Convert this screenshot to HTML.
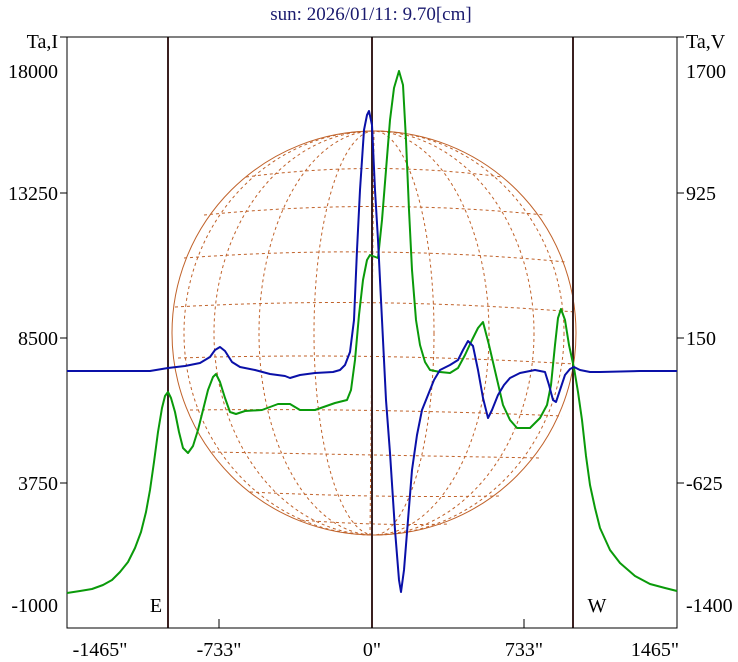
<!DOCTYPE html>
<html><head><meta charset="utf-8"><style>
html,body{margin:0;padding:0;background:#fff;}
svg{display:block;}
text{font-family:"Liberation Serif",serif;}
</style></head><body>
<svg width="738" height="662" viewBox="0 0 738 662" xmlns="http://www.w3.org/2000/svg">
<rect width="738" height="662" fill="#fff"/>
<text x="371" y="20" font-size="19" fill="#1a1a6e" text-anchor="middle">sun: 2026/01/11: 9.70[cm]</text>
<g fill="none" stroke="#c0622a" stroke-width="1">
<circle cx="374" cy="333" r="202"/>
<g stroke-dasharray="3,3">
<path d="M246 177 Q374 160 502 177"/>
<path d="M204 215 Q374 198 544 215"/>
<path d="M184 258 Q374 244 566 262"/>
<path d="M175 307 Q374 296 575 312"/>
<path d="M178 358 Q374 352 574 364"/>
<path d="M190 410 Q374 408 562 416"/>
<path d="M212 452 Q374 455 540 458"/>
<path d="M250 492 Q374 498 500 496"/>
<path d="M300 520 Q374 526 450 524"/>
<ellipse cx="374" cy="333" rx="60" ry="202"/>
<ellipse cx="374" cy="333" rx="115" ry="202"/>
<ellipse cx="374" cy="333" rx="160" ry="202"/>
<ellipse cx="374" cy="333" rx="190" ry="202"/>
<line x1="374" y1="131" x2="370" y2="535"/>
</g>
</g>
<g stroke="#3a2020" stroke-width="2">
<line x1="168" y1="37" x2="168" y2="628"/>
<line x1="372" y1="37" x2="372" y2="628"/>
<line x1="573" y1="37" x2="573" y2="628"/>
</g>
<rect x="67" y="37" width="610" height="591" fill="none" stroke="#000" stroke-width="1"/>
<g stroke="#000" stroke-width="1">
<line x1="60" y1="37" x2="67" y2="37"/><line x1="677" y1="37" x2="684" y2="37"/>
<line x1="60" y1="193" x2="67" y2="193"/><line x1="677" y1="193" x2="684" y2="193"/>
<line x1="60" y1="338" x2="67" y2="338"/><line x1="677" y1="338" x2="684" y2="338"/>
<line x1="60" y1="483" x2="67" y2="483"/><line x1="677" y1="483" x2="684" y2="483"/>
<line x1="219" y1="619" x2="219" y2="628"/><line x1="524" y1="619" x2="524" y2="628"/>
</g>
<g font-size="20" fill="#000">
<text x="58" y="48" text-anchor="end">Ta,I</text>
<text x="58" y="78" text-anchor="end">18000</text>
<text x="58" y="200" text-anchor="end">13250</text>
<text x="58" y="345" text-anchor="end">8500</text>
<text x="58" y="490" text-anchor="end">3750</text>
<text x="58" y="612" text-anchor="end">-1000</text>
<text x="686" y="48">Ta,V</text>
<text x="686" y="78">1700</text>
<text x="686" y="200">925</text>
<text x="686" y="345">150</text>
<text x="686" y="490">-625</text>
<text x="686" y="612">-1400</text>
<text x="156" y="612" text-anchor="middle">E</text>
<text x="597" y="612" text-anchor="middle">W</text>
<text x="100" y="656" text-anchor="middle">-1465"</text>
<text x="219" y="656" text-anchor="middle">-733"</text>
<text x="372" y="656" text-anchor="middle">0"</text>
<text x="524" y="656" text-anchor="middle">733"</text>
<text x="655" y="656" text-anchor="middle">1465"</text>
</g>
<polyline fill="none" stroke="#0a9a0a" stroke-width="2" stroke-linejoin="round" points="67,593 80,591 92,589 103,585 112,580 120,572 128,562 135,548 141,532 146,512 150,490 154,462 158,432 162,408 165,396 168,392 171,398 175,412 179,432 183,448 188,453 193,446 198,430 203,410 208,390 213,377 216,374 220,382 225,398 230,412 236,414 245,411 262,410 278,404 290,404 300,410 315,410 335,403 347,400 351,390 355,360 359,315 363,280 367,260 370,255 378,258 382,220 386,170 390,120 394,88 399,71 403,85 406,140 409,210 412,270 416,320 420,345 425,362 430,370 440,372 450,373 458,368 465,355 472,340 478,328 483,322 489,345 496,375 503,405 510,420 517,428 530,428 540,418 547,405 551,385 555,345 558,318 561,309 565,320 569,345 574,368 578,392 582,420 586,456 590,485 595,508 600,528 610,550 620,563 635,576 650,584 665,588 677,591"/>
<polyline fill="none" stroke="#0a10a8" stroke-width="2" stroke-linejoin="round" points="67,371 110,371 150,371 168,368 185,366 200,363 210,357 215,350 220,347 225,351 232,362 240,367 255,370 270,374 285,376 290,378 300,375 315,373 333,372 340,370 345,365 350,352 354,320 357,250 360,190 364,130 367,115 369,111 372,125 375,190 378,240 382,320 386,400 390,453 395,530 399,580 401,592 404,570 408,520 412,470 417,435 422,410 428,395 434,380 440,370 450,365 458,360 463,350 468,341 473,346 478,370 483,398 488,418 492,410 498,395 504,385 510,378 520,373 535,370 545,372 549,385 553,400 556,402 560,390 565,375 570,369 574,367 580,370 590,372 600,372 640,371 677,371"/>
</svg>
</body></html>
